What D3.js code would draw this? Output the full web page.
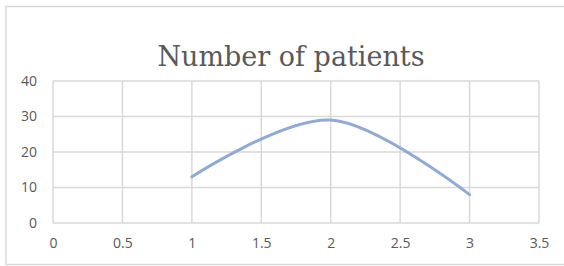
<!DOCTYPE html>
<html>
<head>
<meta charset="utf-8">
<script src="https://cdn.jsdelivr.net/npm/d3@7"></script>
<style>
  body { margin: 0; background: #fff; }
  .axis text { font-family: 'Open Sans', sans-serif; font-size: 14px; fill: #595959; }
</style>
</head>
<body>
<div id="chart"></div>
<script>
const title = 'Number of patients';
const xValues = [1, 2, 3];
const patients = [13, 29, 8];
const xTicks = [0, 0.5, 1, 1.5, 2, 2.5, 3, 3.5];
const yTicks = [0, 10, 20, 30, 40];

const width = 564;
const height = 266;
const margin = {top: 81, right: 25, bottom: 43, left: 53};
const innerW = width - margin.left - margin.right;
const innerH = height - margin.top - margin.bottom;

const svg = d3.select('#chart').append('svg')
    .attr('width', width)
    .attr('height', height);

// outer chart border
svg.append('rect')
    .attr('x', 6).attr('y', 6.5)
    .attr('width', width).attr('height', 258)
    .attr('fill', 'none')
    .attr('stroke', '#d9d9d9')
    .attr('stroke-width', 1.5);

svg.append('text')
    .attr('x', 291)
    .attr('y', 66)
    .attr('text-anchor', 'middle')
    .style('font-family', "'DejaVu Serif', serif")
    .style('font-size', '27px')
    .style('fill', '#595959')
    .text(title);

const x = d3.scaleLinear().domain([0, 3.5]).range([0, innerW]);
const y = d3.scaleLinear().domain([0, 40]).range([innerH, 0]);

const g = svg.append('g')
    .attr('transform', 'translate(' + margin.left + ',' + margin.top + ')');

// gridlines
g.selectAll('.vgrid')
    .data(xTicks)
    .enter()
  .append('line')
    .attr('x1', (d) => x(d)).attr('x2', (d) => x(d))
    .attr('y1', 0).attr('y2', innerH)
    .attr('stroke', '#d9d9d9')
    .attr('stroke-width', 1.5);

g.selectAll('.hgrid')
    .data(yTicks)
    .enter()
  .append('line')
    .attr('x1', 0).attr('x2', innerW)
    .attr('y1', (d) => y(d)).attr('y2', (d) => y(d))
    .attr('stroke', '#d9d9d9')
    .attr('stroke-width', 1.5);

g.append('g')
    .attr('class', 'axis')
    .attr('transform', 'translate(0,' + innerH + ')')
    .call(d3.axisBottom(x).tickValues(xTicks).tickSize(0).tickPadding(15).tickFormat(d3.format('')))
    .call((a) => a.select('.domain').remove());

g.append('g')
    .attr('class', 'axis')
    .call(d3.axisLeft(y).tickValues(yTicks).tickSize(0).tickPadding(16))
    .call((a) => a.select('.domain').remove());

const line = d3.line()
    .curve(d3.curveCardinal.tension(0))
    .x((d, i) => x(xValues[i]))
    .y((d) => y(d));

g.append('path')
    .datum(patients)
    .attr('fill', 'none')
    .attr('stroke', '#8eaad8')
    .attr('stroke-width', 3)
    .attr('stroke-linecap', 'round')
    .attr('d', line);
</script>
</body>
</html>
